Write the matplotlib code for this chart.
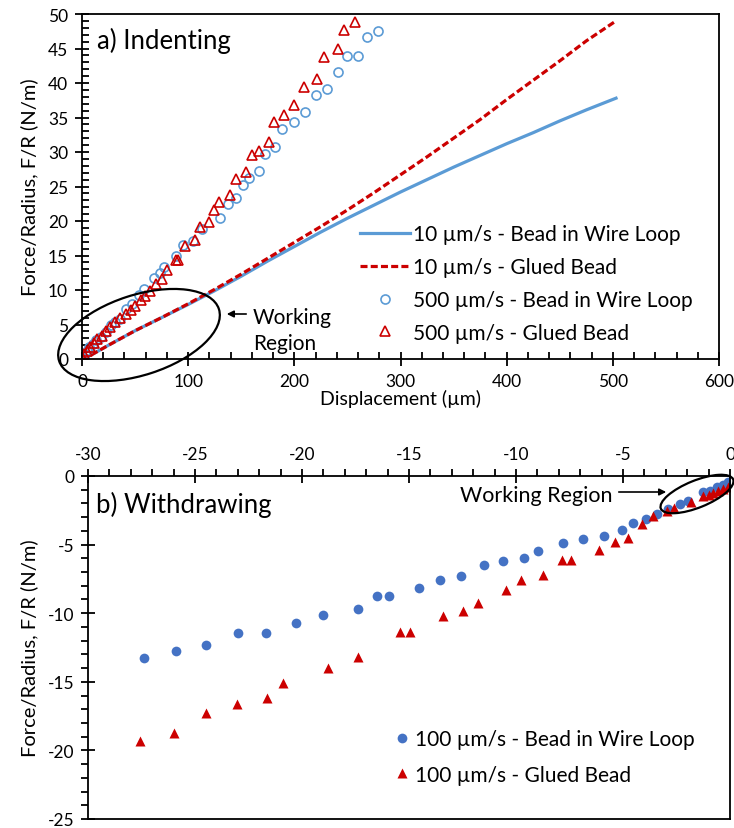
import matplotlib
matplotlib.use("Agg")
import matplotlib.pyplot as plt
from matplotlib.patches import Ellipse
from matplotlib.ticker import MultipleLocator

plt.rcParams['font.family'] = ['Lato', 'DejaVu Sans']
plt.rcParams['axes.unicode_minus'] = False

# ---- a) indenting, 10 um/s curves
slow_x = [0, 10, 25, 50, 75, 100, 125, 150, 175, 200, 225, 250, 275, 300, 325, 350,
          375, 400, 425, 450, 475, 503]
slow_wire_y = [0, 0.7, 2.0, 4.1, 6.0, 7.9, 9.9, 12.0, 14.2, 16.3, 18.4, 20.4, 22.3, 24.2, 26.0, 27.8,
               29.5, 31.2, 32.8, 34.5, 36.1, 37.8]
slow_glued_y = [0, 0.7, 2.0, 4.1, 6.0, 8.0, 10.1, 12.3, 14.6, 16.9, 19.2, 21.6, 24.1, 26.7, 29.3, 32.0,
                34.7, 37.6, 40.4, 43.2, 46.1, 49.0]

# ---- a) indenting, 500 um/s points
fast_wire_x = [0.5, 1.6, 3, 4.4, 6.9, 10.4, 13.5, 17.9, 22.3, 26.9, 31.4, 35.8, 41.8, 46.9, 53.5,
               58.5, 68, 73.6, 77.4, 88.7, 95, 104.4, 112.8, 130.2, 137.4, 145.3, 151.5, 157,
               166.3, 172.6, 182, 188.4, 199.4, 210.4, 220, 230.8, 240.9, 250, 259.7, 268.6, 278.6]
fast_wire_y = [0, 0.2, 0.7, 1.2, 1.7, 2.2, 2.7, 3.2, 3.9, 4.9, 5.4, 5.8, 7.2, 8.0, 9.3,
               10.1, 11.7, 12.4, 13.4, 14.9, 16.5, 17.1, 18.8, 20.4, 22.5, 23.3, 25.2, 26.2,
               27.3, 29.7, 30.7, 33.4, 34.4, 35.8, 38.2, 39.1, 41.6, 43.9, 43.9, 46.6, 47.5]
fast_glued_x = [0.5, 2, 4.4, 7.5, 11, 14, 18.6, 22.6, 26.4, 31.5, 36, 41, 46, 50, 55.7,
                59.4, 64.2, 69.8, 75.2, 79.9, 88.7, 90.3, 97.2, 106.6, 110.7, 120, 124.5, 129.5,
                139.6, 145.3, 154.7, 160, 167, 175.8, 181, 190.6, 200, 209, 221, 228, 241, 247, 257.5]
fast_glued_y = [0, 0.7, 1.2, 1.7, 2.3, 2.9, 3.4, 4.1, 4.6, 5.3, 5.9, 6.5, 7.1, 7.7, 8.6,
                9.2, 9.9, 10.8, 11.6, 12.9, 14.3, 14.3, 16.4, 17.3, 19.2, 19.9, 21.6, 22.8,
                23.7, 26.1, 27.1, 29.5, 30.2, 31.5, 34.3, 35.4, 36.8, 39.4, 40.6, 43.7, 44.9, 47.7, 48.8]

# ---- b) withdrawing, 100 um/s points
wd_wire_x = [-27.37, -25.9, -24.5, -23.0, -21.7, -20.3, -19.0, -17.4, -16.48, -15.93, -14.52,
             -13.55, -12.58, -11.5, -10.6, -9.63, -8.96, -7.79, -6.85, -5.9, -5.06, -4.52,
             -3.94, -3.43, -2.88, -2.34, -1.95, -1.25, -0.93, -0.62, -0.31, -0.08]
wd_wire_y = [-13.3, -12.74, -12.33, -11.43, -11.43, -10.7, -10.15, -9.67, -8.74, -8.74, -8.14,
             -7.61, -7.29, -6.52, -6.23, -5.96, -5.5, -4.89, -4.58, -4.4, -3.93, -3.44,
             -3.12, -2.76, -2.4, -2.03, -1.8, -1.19, -1.07, -0.83, -0.66, -0.47]
wd_glued_x = [-27.57, -25.97, -24.5, -23.05, -21.65, -20.9, -18.8, -17.4, -15.4, -14.95, -13.43,
              -12.46, -11.76, -10.48, -9.78, -8.75, -7.83, -7.44, -6.12, -5.37, -4.75, -4.13,
              -3.58, -2.96, -2.62, -1.84, -1.25, -1.0, -0.8, -0.56, -0.33, -0.1]
wd_glued_y = [-19.35, -18.75, -17.25, -16.64, -16.16, -15.07, -14.0, -13.18, -11.36, -11.36, -10.2,
              -9.86, -9.23, -8.33, -7.61, -7.19, -6.1, -6.1, -5.36, -4.82, -4.5, -3.49,
              -2.93, -2.52, -2.35, -1.87, -1.45, -1.35, -1.25, -1.1, -0.95, -0.8]

LBLUE = '#5B9BD5'
DBLUE = '#4472C4'
RED = '#CC0000'
W, H = 734, 829


def px(x, y):
    # image pixel (top-left origin) -> inches from bottom-left
    return x / 100.0, (H - y) / 100.0


def style_axes(ax, minor_dir):
    for s in ax.spines.values():
        s.set_color('black')
        s.set_linewidth(1.3)
    ax.tick_params(which='major', direction='inout', length=10, width=1.3, labelsize=12.5, pad=5)
    ax.tick_params(which='minor', direction=minor_dir, length=5, width=1.3)


fig = plt.figure(figsize=(W / 100, H / 100), dpi=100)

# ---------------- panel a
ax1 = fig.add_axes([82 / W, 1 - 360 / H, (719 - 82) / W, (360 - 15) / H])
ax1.plot(slow_x, slow_wire_y, color=LBLUE, lw=2.3, label='10 µm/s - Bead in Wire Loop')
ax1.plot(slow_x, slow_glued_y, color=RED, lw=2.3, dashes=(2.2, 1.0), label='10 µm/s - Glued Bead')
ax1.plot(fast_wire_x, fast_wire_y, 'o', mfc='none', mec=LBLUE, mew=1.2, ms=6.5,
         label='500 µm/s - Bead in Wire Loop')
ax1.plot(fast_glued_x, fast_glued_y, '^', mfc='none', mec=RED, mew=1.2, ms=6.5,
         label='500 µm/s - Glued Bead')
ax1.set_xlim(0, 600)
ax1.set_ylim(0, 50)
ax1.xaxis.set_major_locator(MultipleLocator(100))
ax1.xaxis.set_minor_locator(MultipleLocator(20))
ax1.yaxis.set_major_locator(MultipleLocator(5))
ax1.yaxis.set_minor_locator(MultipleLocator(1))
style_axes(ax1, 'in')
ax1.set_xlabel('Displacement (µm)', fontsize=14, labelpad=0)
ax1.set_ylabel('Force/Radius, F/R (N/m)', fontsize=14.5, labelpad=7)
ax1.text(0.023, 0.925, 'a) Indenting', transform=ax1.transAxes, fontsize=18.5, va='center')
ax1.legend(loc='upper left', bbox_to_anchor=px(360, 225), bbox_transform=fig.dpi_scale_trans,
           frameon=False, fontsize=15, handlelength=2.4, handletextpad=0.15,
           labelspacing=0.62, borderpad=0, borderaxespad=0)

fig.patches.append(Ellipse(px(139, 336), 168 / 100, 80 / 100, angle=18, fill=False,
                           ec='black', lw=1.6, transform=fig.dpi_scale_trans))
ax1.annotate('', xy=(224, H - 315), xytext=(249, H - 315), xycoords='figure pixels',
             textcoords='figure pixels', arrowprops=dict(arrowstyle='-|>', color='black', lw=1.2))
ax1.annotate('Working\nRegion', xy=(253, H - 331), xycoords='figure pixels', fontsize=15,
             va='center', ha='left', linespacing=1.4)

# ---------------- panel b
ax2 = fig.add_axes([88 / W, 1 - 820 / H, (730 - 88) / W, (820 - 477) / H])
ax2.plot(wd_wire_x, wd_wire_y, 'o', color=DBLUE, ms=7, mec='none',
         label='100 µm/s - Bead in Wire Loop')
ax2.plot(wd_glued_x, wd_glued_y, '^', color=RED, ms=7.5, mec='none',
         label='100 µm/s - Glued Bead')
ax2.set_xlim(-30, 0)
ax2.set_ylim(-25, 0)
ax2.xaxis.tick_top()
ax2.xaxis.set_major_locator(MultipleLocator(5))
ax2.xaxis.set_minor_locator(MultipleLocator(1))
ax2.yaxis.set_major_locator(MultipleLocator(5))
ax2.yaxis.set_minor_locator(MultipleLocator(1))
style_axes(ax2, 'out')
ax2.set_ylabel('Force/Radius, F/R (N/m)', fontsize=14.5, labelpad=7)
ax2.text(0.012, 0.918, 'b) Withdrawing', transform=ax2.transAxes, fontsize=18.5, va='center')
ax2.legend(loc='upper left', bbox_to_anchor=px(394, 730), bbox_transform=fig.dpi_scale_trans,
           frameon=False, fontsize=15, handlelength=0.8, handletextpad=0.2,
           labelspacing=0.75, borderpad=0, borderaxespad=0)

fig.patches.append(Ellipse(px(697, 495), 78 / 100, 27 / 100, angle=22, fill=False,
                           ec='black', lw=1.6, transform=fig.dpi_scale_trans))
ax2.annotate('', xy=(669, H - 493), xytext=(616, H - 493), xycoords='figure pixels',
             textcoords='figure pixels', arrowprops=dict(arrowstyle='-|>', color='black', lw=1.2))
ax2.annotate('Working Region', xy=(612, H - 496), xycoords='figure pixels', fontsize=15.5,
             va='center', ha='right')

fig.savefig('out.png', dpi=100)
